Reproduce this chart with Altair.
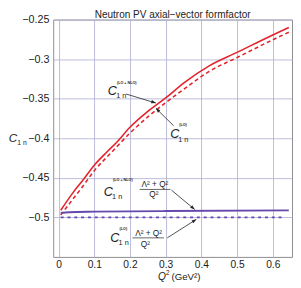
import math
import altair as alt
import pandas as pd

# ---------------- data ----------------
q2_nlo = [0.006, 0.04, 0.068, 0.1, 0.136, 0.163, 0.2, 0.25, 0.3, 0.354, 0.422, 0.5, 0.6, 0.645]
c1n_nlo = [-0.491, -0.469, -0.453, -0.434, -0.417, -0.405, -0.386, -0.366, -0.349, -0.329, -0.3085, -0.2915, -0.2695, -0.260]

q2_lo = [0.006, 0.04, 0.068, 0.1, 0.15, 0.2, 0.25, 0.3, 0.354, 0.42, 0.5, 0.6, 0.645]
c1n_lo = [-0.497, -0.477, -0.4606, -0.441, -0.417, -0.3935, -0.373, -0.355, -0.337, -0.316, -0.298, -0.2755, -0.266]

q2_fnlo = [0.006, 0.03, 0.1, 0.3, 0.645]
c1n_fnlo = [-0.4945, -0.4935, -0.4928, -0.4920, -0.4912]

q2_flo = [0.006, 0.2, 0.4, 0.63]
c1n_flo = [-0.5, -0.5, -0.5, -0.5]

x_ticks = [0, 0.1, 0.2, 0.3, 0.4, 0.5, 0.6]
y_ticks = [-0.5, -0.45, -0.4, -0.35, -0.3, -0.25]

title_text = "Neutron PV axial\u2212vector  formfactor"

# annotation labels (data coordinates)
c_x = [0.1507, 0.3256, 0.1395, 0.1575]
c_y = [-0.3452, -0.4002, -0.4725, -0.5312]
sub_x = [0.1616, 0.3351, 0.1499, 0.1681]
sub_y = [-0.3494, -0.4042, -0.4762, -0.5347]
sup_x = [0.1635, 0.3379, 0.1526, 0.1708]
sup_y = [-0.3297, -0.3830, -0.4532, -0.5148]
sup_t = ["(LO + NLO)", "(LO)", "(LO + NLO)", "(LO)"]

num_x = [0.2698, 0.2520]
num_y = [-0.4615, -0.5230]
den_x = [0.2670, 0.2431]
den_y = [-0.4748, -0.5376]
bar_x1 = [0.2270, 0.2071]
bar_x2 = [0.3134, 0.2951]
bar_y = [-0.4647, -0.5259]

arr_x1 = [0.1888, 0.3223, 0.3161, 0.3044]
arr_y1 = [-0.3440, -0.3842, -0.4655, -0.5259]
arr_x2 = [0.2725, 0.2725, 0.3815, 0.3861]
arr_y2 = [-0.3555, -0.3621, -0.4901, -0.5025]

# ---------------- layout ----------------
W, H = 245.5, 244
XDOM = [-0.015, 0.654]
YDOM = [-0.55, -0.25]
FONT = "Liberation Sans"
RED = "#e3232c"
PURPLE = "#6549ad"
INK = "#222222"

xs = alt.Scale(domain=XDOM, nice=False, zero=False)
ys = alt.Scale(domain=YDOM, nice=False, zero=False)
xax = alt.Axis(values=x_ticks, format=".1~f", grid=True, ticks=False, domain=False,
               labelFontSize=10.5, labelPadding=3, title=None)
yax = alt.Axis(values=y_ticks, format=".2~f", grid=True, ticks=False, domain=False,
               labelFontSize=11, labelPadding=4.5, title=None)


def X(f="x"):
    return alt.X(f"{f}:Q", scale=xs, axis=xax)


def Y(f="y"):
    return alt.Y(f"{f}:Q", scale=ys, axis=yax)


def line(xv, yv, color, dash=None, width=1.5):
    df = pd.DataFrame({"x": xv, "y": yv})
    kw = dict(color=color, strokeWidth=width, interpolate="monotone")
    if dash:
        kw["strokeDash"] = dash
    return alt.Chart(df).mark_line(**kw).encode(x=X(), y=Y())


red_nlo = line(q2_nlo, c1n_nlo, RED, width=1.6)
red_lo = line(q2_lo, c1n_lo, RED, dash=[4, 3], width=1.6)
pur_nlo = line(q2_fnlo, c1n_fnlo, PURPLE, width=1.9)
pur_lo = line(q2_flo, c1n_flo, PURPLE, dash=[3, 4], width=1.8)

# arrows
sx = W / (XDOM[1] - XDOM[0])
sy = H / (YDOM[1] - YDOM[0])
angles = []
for a, b, c, d in zip(arr_x1, arr_y1, arr_x2, arr_y2):
    dxp = (c - a) * sx
    dyp = -(d - b) * sy
    angles.append(math.degrees(math.atan2(dxp, -dyp)) % 360)
arr_df = pd.DataFrame({"x": arr_x1, "y": arr_y1, "x2": arr_x2, "y2": arr_y2, "ang": angles})
arrows = alt.Chart(arr_df).mark_rule(color=INK, strokeWidth=0.8).encode(
    x=X(), y=Y(), x2="x2:Q", y2="y2:Q")
heads = alt.Chart(arr_df).mark_point(
    shape="M0,0L-0.36,1L0.36,1Z", filled=True, color=INK, opacity=1, size=90
).encode(x=X("x2"), y=Y("y2"), angle=alt.Angle("ang:Q", scale=None))

# annotation texts
c_df = pd.DataFrame({"x": c_x, "y": c_y, "t": ["C"] * 4})
c_txt = alt.Chart(c_df).mark_text(font=FONT, fontSize=13, fontStyle="italic", color=INK,
                                  align="center", baseline="alphabetic").encode(x=X(), y=Y(), text="t:N")
sub_df = pd.DataFrame({"x": sub_x, "y": sub_y, "t": ["1 n"] * 4})
sub_txt = alt.Chart(sub_df).mark_text(font=FONT, fontSize=7.5, color=INK, align="left",
                                      baseline="alphabetic").encode(x=X(), y=Y(), text="t:N")
sup_df = pd.DataFrame({"x": sup_x, "y": sup_y, "t": sup_t})
sup_txt = alt.Chart(sup_df).mark_text(font=FONT, fontSize=3.8, fontWeight="bold", color=INK,
                                      align="left", baseline="middle").encode(x=X(), y=Y(), text="t:N")
num_df = pd.DataFrame({"x": num_x, "y": num_y, "t": ["\u039b\u00b2 + Q\u00b2"] * 2})
num_txt = alt.Chart(num_df).mark_text(font=FONT, fontSize=8.5, color=INK, align="center",
                                      baseline="alphabetic").encode(x=X(), y=Y(), text="t:N")
den_df = pd.DataFrame({"x": den_x, "y": den_y, "t": ["Q\u00b2"] * 2})
den_txt = alt.Chart(den_df).mark_text(font=FONT, fontSize=8.5, color=INK, align="center",
                                      baseline="alphabetic").encode(x=X(), y=Y(), text="t:N")
bar_df = pd.DataFrame({"x": bar_x1, "x2": bar_x2, "y": bar_y})
bars = alt.Chart(bar_df).mark_rule(color=INK, strokeWidth=0.7).encode(x=X(), x2="x2:Q", y=Y())

# title and axis titles (placed relative to the plot area)
lab = pd.DataFrame({"t": [title_text]})
title = alt.Chart(lab).mark_text(font=FONT, fontSize=10.3, color=INK, align="center",
                                 baseline="alphabetic").encode(
    x=alt.value(W / 2), y=alt.value(-1.5), text="t:N")
ylab_c = alt.Chart(pd.DataFrame({"t": ["C"]})).mark_text(
    font=FONT, fontSize=12, fontStyle="italic", color=INK, align="center", baseline="alphabetic"
).encode(x=alt.value(-41.5), y=alt.value(125.5), text="t:N")
ylab_s = alt.Chart(pd.DataFrame({"t": ["1 n"]})).mark_text(
    font=FONT, fontSize=7, color=INK, align="left", baseline="alphabetic"
).encode(x=alt.value(-37), y=alt.value(128.5), text="t:N")
xlab_q = alt.Chart(pd.DataFrame({"t": ["Q"]})).mark_text(
    font=FONT, fontSize=10.5, fontStyle="italic", color=INK, align="left", baseline="alphabetic"
).encode(x=alt.value(107.8), y=alt.value(267.5), text="t:N")
xlab_2 = alt.Chart(pd.DataFrame({"t": ["2"]})).mark_text(
    font=FONT, fontSize=6.5, color=INK, align="left", baseline="alphabetic"
).encode(x=alt.value(116), y=alt.value(262.5), text="t:N")
xlab_g = alt.Chart(pd.DataFrame({"t": ["(GeV\u00b2)"]})).mark_text(
    font=FONT, fontSize=10, color=INK, align="left", baseline="alphabetic"
).encode(x=alt.value(121.5), y=alt.value(267.5), text="t:N")

chart = alt.layer(
    red_nlo, red_lo, pur_nlo, pur_lo, arrows, heads, bars,
    c_txt, sub_txt, sup_txt, num_txt, den_txt,
    title, ylab_c, ylab_s, xlab_q, xlab_2, xlab_g,
).properties(
    width=W, height=H,
    autosize=alt.AutoSizeParams(type="none"),
    padding={"left": 46.5, "top": 8, "right": 1, "bottom": 27},
).configure_view(
    stroke="#8c8c8c", strokeWidth=1
).configure_axis(
    gridColor="#b4b4d6", gridWidth=0.9, gridOpacity=1,
    labelFont=FONT, labelColor=INK,
)

chart.save("out.html", embed_options={"renderer": "svg", "actions": False})
